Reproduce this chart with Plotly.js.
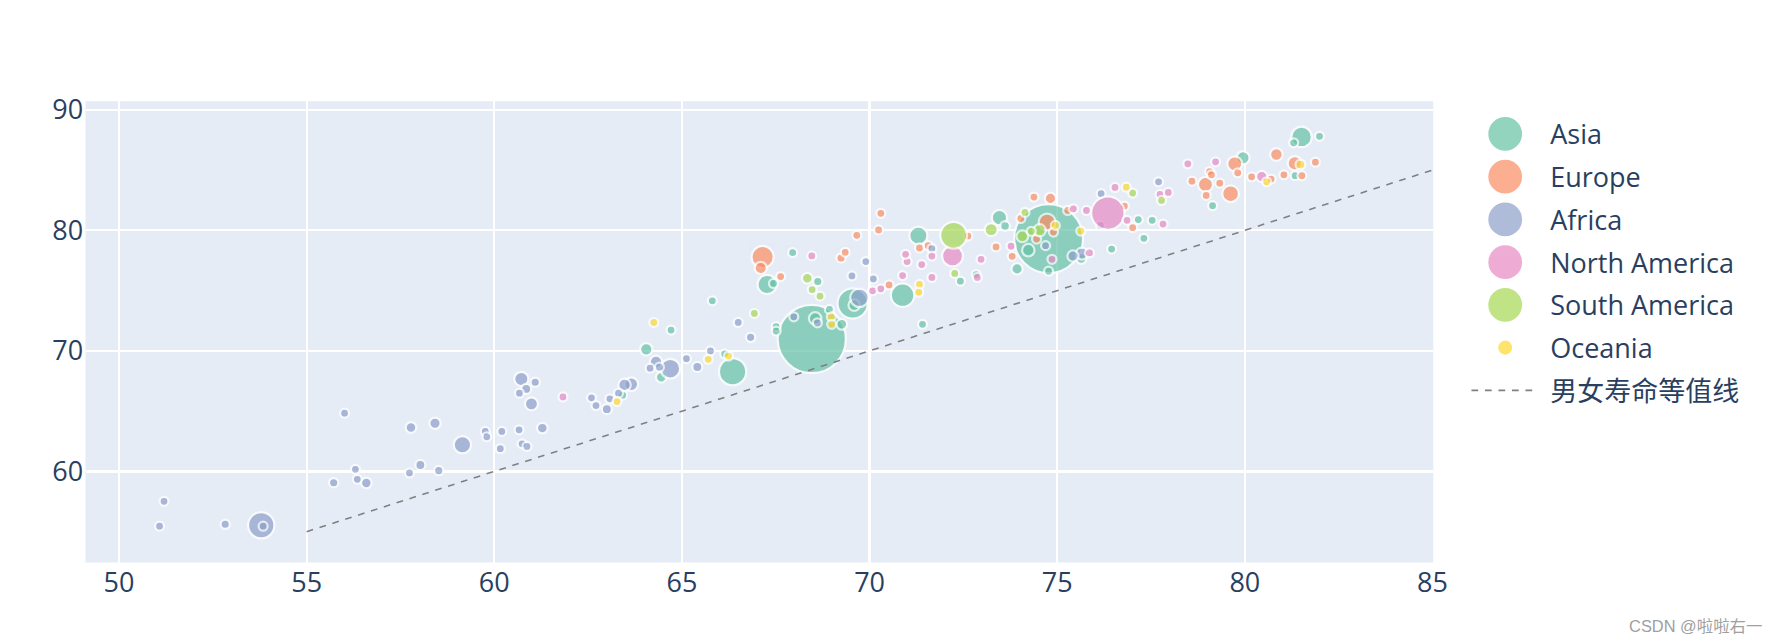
<!DOCTYPE html>
<html>
<head>
<meta charset="utf-8">
<script src="https://cdn.plot.ly/plotly-3.0.1.min.js"></script>
<style>
  html, body { margin: 0; padding: 0; background: #ffffff; width: 1782px; height: 644px; overflow: hidden; }
  #wrap { width: 792px; height: 286.22px; transform: scale(2.25); transform-origin: 0 0; }
  #chart { width: 792px; height: 286.22px; }
</style>
</head>
<body>
<div id="wrap"><div id="chart"></div></div>
<script>
// ---------------- data (male life expectancy, female life expectancy, bubble size ~ population in millions) ----------------
const continents = ['Asia', 'Europe', 'Africa', 'North America', 'South America', 'Oceania'];
const lineName = '男女寿命等值线';
const watermark = 'CSDN @啦啦右一';

const asiaMale = [74.77, 68.46, 69.55, 66.35, 70.88, 67.27, 81.51, 71.30, 73.46, 79.95, 64.05, 74.23, 68.55, 73.93, 69.59, 64.45, 69.26, 75.64, 73.61, 68.62, 67.95,
  63.42, 64.71, 65.81, 66.14, 67.51, 67.51, 67.44, 68.93, 71.41, 72.42, 72.84, 74.77, 76.45, 77.16, 77.31, 77.53, 79.14, 81.34, 81.30, 81.99];
const asiaFemale = [79.31, 70.98, 73.93, 68.27, 74.62, 75.51, 87.75, 79.56, 81.05, 86.02, 70.13, 78.35, 72.69, 76.80, 73.79, 67.81, 72.20, 77.66, 80.36, 75.75, 78.15,
  66.32, 71.73, 74.15, 69.74, 72.00, 71.64, 75.59, 73.44, 72.20, 75.78, 76.33, 76.61, 78.45, 80.89, 79.34, 80.83, 82.04, 84.53, 87.26, 87.80];
const asiaSize = [1410, 1380, 273, 220, 165, 110, 126, 97, 70, 52, 46, 46, 46, 38, 38, 34, 34, 34, 28, 26, 24,
  3, 3, 3, 3, 3, 3, 3, 3, 3, 3, 12, 3, 3, 3, 3, 3, 3, 3, 3, 3];

const europeMale = [67.15, 74.73, 79.62, 78.95, 79.73, 81.33, 74.82, 80.84, 67.10, 69.24, 79.33, 70.52,
  67.63, 69.35, 69.66, 70.30, 70.24, 71.33, 71.56, 72.62, 73.37, 73.80, 74.03, 74.38, 74.90, 74.45, 75.28, 76.79, 77.01, 78.59, 79.06, 79.11, 78.97, 79.81, 80.18, 80.70, 81.04, 81.52, 81.88];
const europeFemale = [77.79, 80.69, 83.04, 83.81, 85.52, 85.57, 82.65, 86.29, 76.88, 77.71, 83.91, 75.47,
  76.17, 78.18, 79.59, 81.41, 80.03, 78.54, 78.73, 79.53, 78.62, 77.85, 80.99, 82.76, 79.86, 79.28, 81.65, 82.01, 80.22, 84.08, 84.88, 84.61, 82.90, 84.77, 84.44, 84.25, 84.61, 84.53, 85.65];
const europeSize = [146, 84, 83, 67, 67, 60, 38, 47, 44, 26, 24, 22,
  3, 3, 3, 3, 3, 3, 3, 3, 3, 3, 3, 3, 3, 3, 3, 3, 3, 3, 3, 3, 3, 3, 3, 3, 3, 3, 3];

const africaMale = [53.79, 64.69, 69.73, 59.15, 60.72, 63.65, 60.99, 63.47, 64.31, 75.66, 58.42, 56.59, 57.78, 61.28, 75.42, 58.03, 60.85, 63.00, 65.41,
  52.83, 55.72, 58.52, 61.09, 66.83, 59.76, 59.80, 60.20, 60.74, 60.87, 74.69, 56.35, 65.76,
  51.08, 51.20, 53.84, 56.01, 56.30, 57.74, 60.16, 60.66, 60.67, 62.59, 62.71, 63.08, 63.31, 64.15, 64.40, 65.12, 66.50, 67.98, 68.61, 69.53, 69.90, 70.10, 71.66, 76.17, 77.70, 76.15];
const africaFemale = [55.53, 68.52, 74.40, 62.21, 67.67, 67.23, 65.60, 67.17, 69.08, 78.07, 64.00, 59.04, 63.64, 63.59, 77.87, 60.53, 66.84, 65.16, 68.66,
  55.61, 59.06, 60.06, 67.40, 71.12, 63.31, 62.87, 63.31, 62.29, 62.07, 78.73, 59.34, 69.99,
  55.45, 57.52, 55.45, 64.83, 60.17, 59.87, 61.88, 63.45, 66.49, 66.10, 65.46, 66.02, 66.49, 68.56, 68.64, 69.35, 72.36, 72.83, 72.33, 76.22, 77.41, 75.97, 78.49, 83.04, 84.03, 80.41];
const africaSize = [206, 115, 102, 90, 60, 56, 50, 46, 46, 44, 38, 34, 34, 34, 37, 30, 30, 30, 30,
  26, 26, 26, 26, 26, 24, 24, 24, 24, 24, 20, 21, 21,
  3, 3, 3, 3, 3, 3, 3, 3, 3, 3, 3, 3, 3, 3, 3, 3, 3, 3, 3, 3, 3, 3, 3, 3, 3, 3];

const northAmericaMale = [76.35, 72.21, 80.45, 71.39, 71.00,
  61.83, 68.46, 70.08, 70.30, 70.88, 70.96, 71.66, 71.66, 72.87, 72.97, 73.77, 74.86, 75.43, 75.78, 75.86, 76.54, 76.86, 77.74, 77.96, 77.82, 78.48, 79.22];
const northAmericaFemale = [81.43, 77.87, 84.47, 77.16, 77.41,
  66.18, 77.88, 74.98, 75.15, 76.25, 78.01, 77.87, 76.09, 76.09, 77.60, 78.68, 77.60, 81.79, 81.65, 78.12, 83.56, 80.83, 82.98, 83.14, 80.52, 85.52, 85.68];
const northAmericaSize = [331, 129, 38, 24, 21,
  11, 3, 3, 3, 3, 3, 3, 3, 3, 3, 3, 3, 3, 3, 3, 3, 3, 3, 3, 3, 3, 3];

const southAmericaMale = [72.24, 74.53, 73.24, 74.07, 68.34, 77.78, 68.68, 74.31, 66.93, 68.47, 72.27, 74.14, 77.01];
const southAmericaFemale = [79.59, 80.00, 80.06, 79.50, 76.03, 82.48, 74.54, 79.92, 73.11, 75.09, 76.42, 81.49, 83.09];
const southAmericaSize = [213, 45, 51, 41, 34, 24, 21, 15, 3, 3, 3, 3, 3];

const oceaniaMale = [81.48, 63.27, 64.25, 65.70, 66.24, 68.98, 68.99, 71.33, 71.31, 74.95, 75.63, 76.84, 80.58];
const oceaniaFemale = [85.46, 65.79, 72.36, 69.30, 69.57, 72.83, 72.20, 75.51, 74.87, 80.41, 79.94, 83.58, 84.03];
const oceaniaSize = [29, 9, 5, 5, 5, 5, 5, 5, 5, 5, 5, 5, 6];

const diagMale = [55, 85];
const diagFemale = [55, 85];

// ---------------- styling ----------------
const palette = ['#66c2a5', '#fc8d62', '#8da0cb', '#e78ac3', '#a6d854', '#ffd92f'];
const series = [
  [asiaMale, asiaFemale, asiaSize],
  [europeMale, europeFemale, europeSize],
  [africaMale, africaFemale, africaSize],
  [northAmericaMale, northAmericaFemale, northAmericaSize],
  [southAmericaMale, southAmericaFemale, southAmericaSize],
  [oceaniaMale, oceaniaFemale, oceaniaSize]
];

const fontFamily = '"Open Sans", verdana, arial, "Noto Sans CJK SC", sans-serif';

const data = series.map((s, i) => ({
  type: 'scatter',
  mode: 'markers',
  name: continents[i],
  x: s[0],
  y: s[1],
  marker: {
    size: s[2],
    sizemode: 'area',
    sizeref: 3,
    sizemin: 2,
    color: palette[i],
    opacity: 0.7,
    line: { color: 'white', width: 1 }
  }
}));

data.push({
  type: 'scatter',
  mode: 'lines',
  name: lineName,
  x: diagMale,
  y: diagFemale,
  line: { color: 'gray', width: 0.7, dash: 'dot' }
});

const layout = {
  width: 792,
  height: 286.22,
  margin: { l: 38.2, r: 154.7, t: 44.7, b: 36.0, pad: 0 },
  paper_bgcolor: 'white',
  plot_bgcolor: '#E5ECF6',
  font: { family: fontFamily, size: 12, color: '#2a3f5f' },
  showlegend: true,
  legend: { x: 1.02, y: 1, font: { size: 12, color: '#2a3f5f' } },
  xaxis: {
    range: [49.107, 85.02], tick0: 50, dtick: 5,
    gridcolor: 'white', gridwidth: 1, zeroline: false, showline: false, ticks: ''
  },
  yaxis: {
    range: [52.44, 90.71], tick0: 0, dtick: 10,
    gridcolor: 'white', gridwidth: 1, zeroline: false, showline: false, ticks: ''
  },
  annotations: [{
    text: watermark, xref: 'paper', yref: 'paper', x: 1.2469, y: -0.1377,
    xanchor: 'right', yanchor: 'middle', showarrow: false,
    font: { family: 'Liberation Sans, Arial, "Noto Sans CJK SC", sans-serif', size: 7.3, color: '#a0a0a0' }
  }]
};

Plotly.newPlot('chart', data, layout, { displayModeBar: false, responsive: false });
</script>
</body>
</html>
